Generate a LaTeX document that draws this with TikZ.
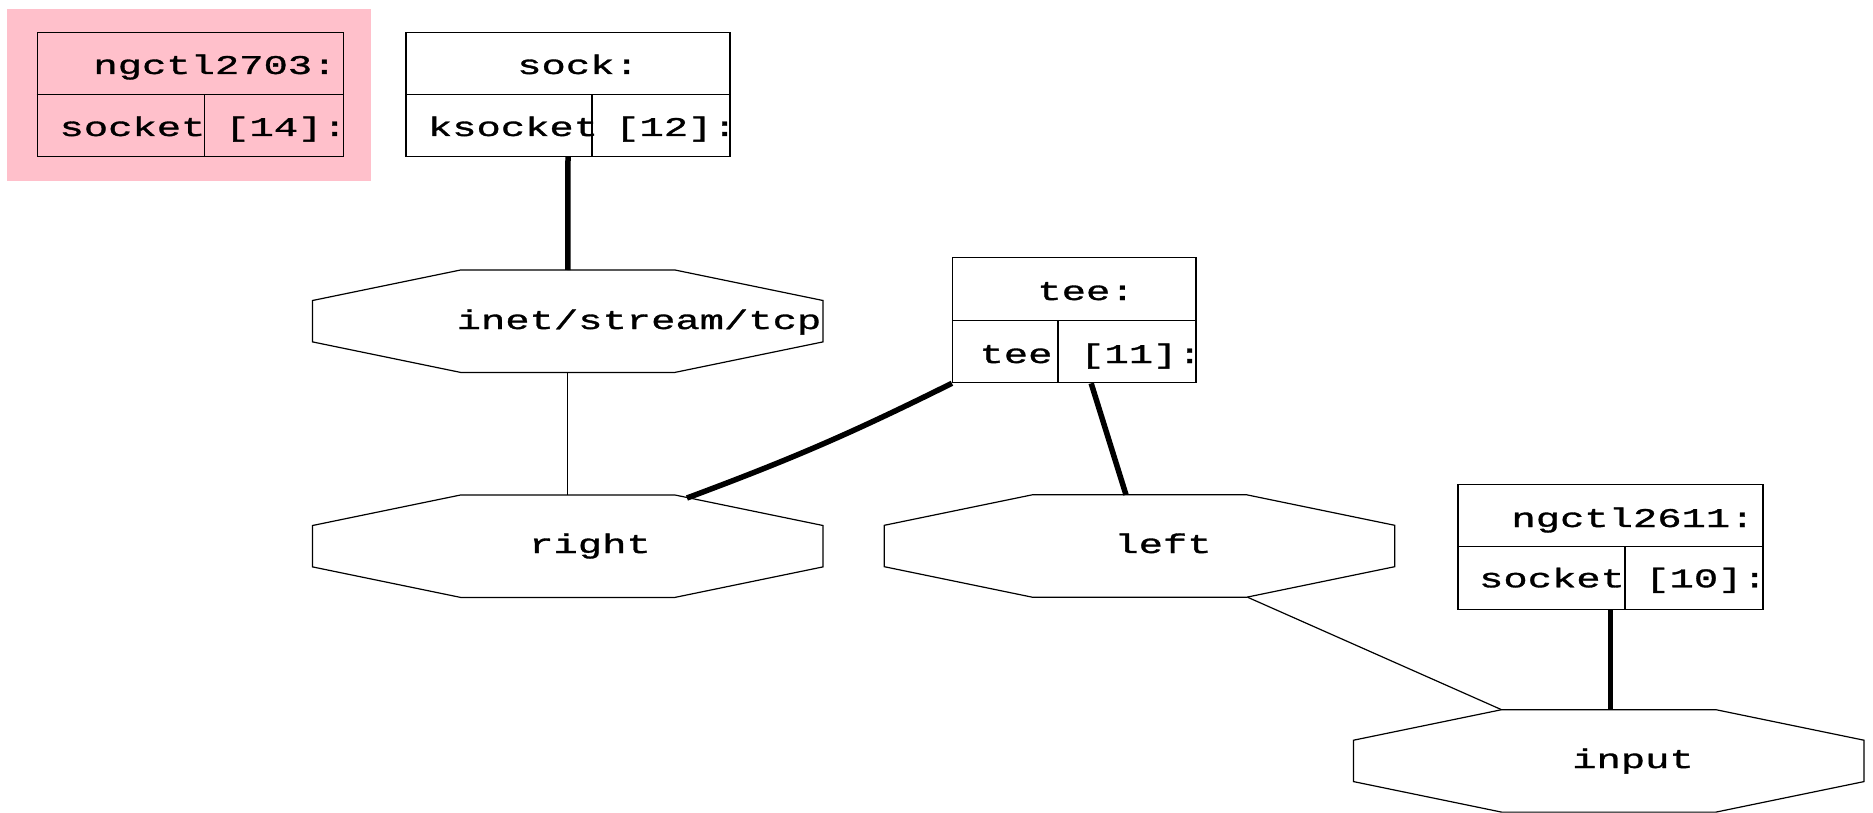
\documentclass[tikz,border=0pt]{standalone}
\usepackage{fontspec}
\newfontfamily\gvfont[FakeStretch=1.5,FakeBold=1.2]{Liberation Mono}
\usetikzlibrary{calc}
\definecolor{gvpink}{RGB}{255,192,203}

\tikzset{
  rec/.style={draw,line width=1.2pt,inner sep=0pt,minimum height=124pt},
  oct/.style={inner sep=0pt,minimum width=510pt,minimum height=102pt},
  lbl/.style={anchor=base,inner sep=0pt,font=\gvfont\fontsize{27}{27}\selectfont},
  wire/.style={line width=1.2pt},
  bigwire/.style={line width=5.5pt},
}
% octagon outline round a hook node
\newcommand{\octline}[1]{%
  \draw[wire] ($(#1.north west)+(148,0)$) -- ($(#1.north east)+(-148,0)$)
    -- ($(#1.north east)+(0,30.5)$) -- ($(#1.south east)+(0,-30.5)$)
    -- ($(#1.south east)+(-148,0)$) -- ($(#1.south west)+(148,0)$)
    -- ($(#1.south west)+(0,-30.5)$) -- ($(#1.north west)+(0,30.5)$) -- cycle;}

\begin{document}
\begin{tikzpicture}[x=1pt,y=-1pt]
       \useasboundingbox (0,0) rectangle (1873,813);

       % the lone socket node, on its pink ground
       \fill[gvpink] (7.3,9.3) rectangle (370.7,180.7);
       \node[rec,minimum width=306pt] (NGA) at (190.3,94.7) {};
       \draw[wire] (NGA.west) -- (NGA.east);
       \draw[wire] (204.7,0 |- NGA.center) -- (204.7,0 |- NGA.south);
       \node[lbl] (NGAh) at (215,74) {ngctl2703:};
       \node[lbl] (NGAt) at (132.5,136) {socket};
       \node[lbl] (NGAi) at (286,136) {[14]:};

       \node[rec,minimum width=324pt] (SOCK) at (568,94.5) {};
       \draw[wire] (SOCK.west) -- (SOCK.east);
       \draw[wire] (592,0 |- SOCK.center) -- (592,0 |- SOCK.south);
       \node[lbl] (SOCKh) at (578,74) {sock:};
       \node[lbl] (SOCKt) at (513,136) {ksocket};
       \node[lbl] (SOCKi) at (676,136) {[12]:};

       \node[rec,minimum width=243.5pt,minimum height=125pt] (TEE) at (1074.25,320.2) {};
       \draw[wire] (TEE.west) -- (TEE.east);
       \draw[wire] (1058,0 |- TEE.center) -- (1058,0 |- TEE.south);
       \node[lbl] (TEEh) at (1086,300) {tee:};
       \node[lbl] (TEEt) at (1016,363) {tee};
       \node[lbl] (TEEi) at (1141,363) {[11]:};

       \node[rec,minimum width=305pt,minimum height=125pt] (NGB) at (1610.5,546.8) {};
       \draw[wire] (NGB.west) -- (NGB.east);
       \draw[wire] (1625,0 |- NGB.center) -- (1625,0 |- NGB.south);
       \node[lbl] (NGBh) at (1633,527) {ngctl2611:};
       \node[lbl] (NGBt) at (1552,587.3) {socket};
       \node[lbl] (NGBi) at (1706,587.3) {[10]:};

       % hooks
       \node[oct] (TCP) at (567.75,321.2) {};
       \node[oct] (RGT) at (567.75,546.2) {};
       \node[oct] (LFT) at (1139.5,546) {};
       \node[oct] (INP) at (1608.75,760.9) {};
       \octline{TCP} \octline{RGT} \octline{LFT} \octline{INP}
       \node[lbl] (TCPt) at (639,329) {inet/stream/tcp};
       \node[lbl] (RGTt) at (590,553) {right};
       \node[lbl] (LFTt) at (1163,553) {left};
       \node[lbl] (INPt) at (1633,768) {input};

       % links
       \draw[bigwire] (SOCK.south) -- (TCP.north);
       \draw[wire] (TCP.south) -- (RGT.north);
       \draw[bigwire] (TEE.south west) to[bend left=3] ($(RGT.north east)+(-136,3)$);
       \draw[bigwire] (TEE.-75) -- ($(LFT.north)+(-13.5,0)$);
       \draw[wire] ($(LFT.south)+(108,0)$) -- ($(INP.north west)+(148,0)$);
       \draw[bigwire] (NGB.south) -- (NGB.south |- INP.north);
\end{tikzpicture}
\end{document}
